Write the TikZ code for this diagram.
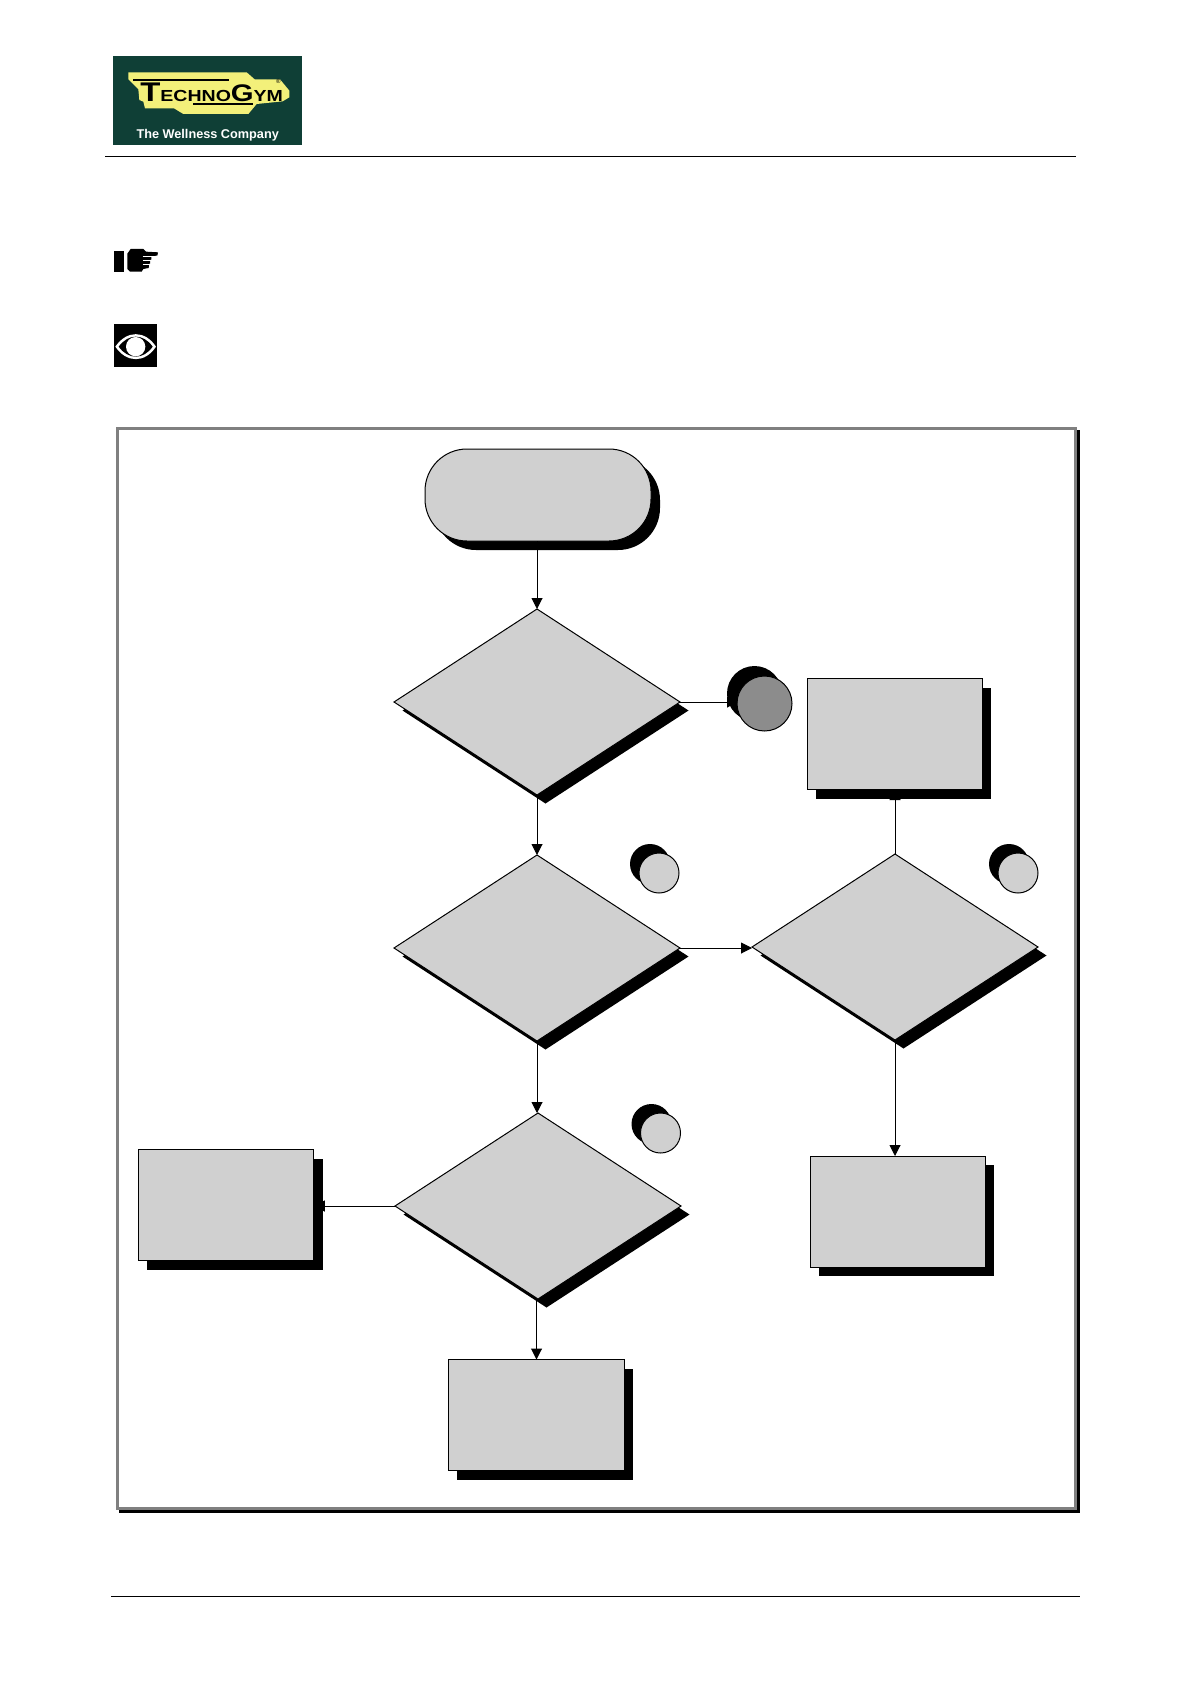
\documentclass[tikz,border=0pt]{standalone}
\usepackage{fontspec}
\setmainfont{Liberation Sans}
\usetikzlibrary{shapes.geometric,arrows.meta}
\definecolor{shapegray}{HTML}{D0D0D0}
\definecolor{darkgray}{HTML}{8C8C8C}
\definecolor{framegray}{HTML}{808080}
\definecolor{logogreen}{HTML}{0F3F36}
\definecolor{logoyellow}{HTML}{F3F07A}
\tikzset{
  every node/.style={outer sep=0pt,inner sep=0pt},
  panel/.style={draw=black,line width=.5pt,fill=shapegray},
  shade/.style={fill=black},
  dia/.style={diamond,minimum width=143pt,minimum height=93pt,shape aspect=1.54},
  boxr/.style={rectangle,minimum width=87.75pt,minimum height=55.5pt},
  smallc/.style={circle,minimum size=20pt},
  bigc/.style={circle,minimum size=27.5pt},
  startr/.style={rectangle,rounded corners=21pt,minimum width=113pt,minimum height=46pt},
  link/.style={draw=black,line width=.5pt,-{Triangle[length=5.5pt,width=5.5pt]}},
  rulel/.style={draw=black,line width=.5pt},
}
\begin{document}
\begin{tikzpicture}[x=.5pt,y=-.5pt]
\useasboundingbox (0,0) rectangle (1191,1684);
\fill[white] (0,0) rectangle (1191,1684);
% header and footer rules
\coordinate (hl) at (105,156.5); \coordinate (hr) at (1076,156.5);
\coordinate (fl) at (111,1596.5); \coordinate (fr) at (1080,1596.5);
\draw[rulel] (hl) -- (hr);
\draw[rulel] (fl) -- (fr);
% logo
\node[rectangle,fill=logogreen,minimum width=94.5pt,minimum height=44.5pt] (logo) at (207.5,100.5) {};
\begin{scope}[shift={(100,40)},x=.16667pt,y=-.16667pt]
\fill[logoyellow] (85,97)--(440,97)--(464,118)--(540,118)--(568,152)--(568,172)--(548,184)--(470,192)--(445,222)--(250,222)--(222,205)--(135,205)--(130,185)--(118,180)--(115,148)--(85,118)--cycle;
\fill[black] (100,116) rectangle (388,122);
\fill[black] (278,190) rectangle (458,196);
\node (logoword) at (335,157) {\scalebox{1.22}[1]{\fontsize{8pt}{8pt}\selectfont\bfseries\raisebox{-.2pt}{\fontsize{13.5pt}{12pt}\selectfont T}ECHNO\fontsize{12pt}{12pt}\selectfont G\fontsize{8pt}{8pt}\selectfont YM}};
\node (logoreg) at (535,123) {\fontsize{3pt}{3pt}\selectfont ®};
\node[text=white] (logotag) at (323,286) {\fontsize{6.35pt}{7pt}\selectfont\bfseries The Wellness Company};
\end{scope}
% pointing hand icon
\begin{scope}[shift={(100,235)},x=.16667pt,y=-.16667pt]
\fill[black] (42,47) rectangle (72,110);
\fill[black] (82,56)--(92,42)--(130,42)--(138,50)--(174,52)--(172,62)--(135,64)--(154,66)--(154,74)--(135,76)--(150,78)--(150,86)--(135,88)--(147,90)--(146,99)--(130,102)--(125,110)--(90,110)--(82,102)--cycle;
\draw[white,line width=.35pt] (128,65) -- (156,65) (128,77) -- (152,77) (128,89) -- (150,89);
% eye icon
\fill[black] (42,268) rectangle (171,396);
\fill[white] (46,335) .. controls (80,285) and (135,285) .. (168,335) .. controls (135,385) and (80,385) .. (46,335) -- cycle;
\fill[black] (56,335) .. controls (85,295) and (130,295) .. (158,335) .. controls (130,375) and (85,375) .. (56,335) -- cycle;
\fill[white] (107,335) circle[radius=29];
\end{scope}
% frame
\node[rectangle,draw=black,line width=1.5pt,minimum width=479pt,minimum height=540pt] (frames) at (599.5,971.5) {};
\node[rectangle,draw=framegray,fill=white,line width=1.5pt,minimum width=479pt,minimum height=540pt] (frame) at (596.5,968.5) {};
% shadows
\node[shade,startr] (starts) at (547,504) {};
\node[shade,dia] (d1s) at (545.5,710.5) {};
\node[shade,dia] (d2s) at (545.5,956.5) {};
\node[shade,dia] (d3s) at (903.5,955.5) {};
\node[shade,dia] (d4s) at (546.5,1214.5) {};
\node[shade,boxr] (r1s) at (903.5,743) {};
\node[shade,boxr] (r2s) at (906.5,1220.5) {};
\node[shade,boxr] (r3s) at (235,1214) {};
\node[shade,boxr] (r4s) at (545,1424) {};
\node[shade,bigc] (cbs) at (754.5,693.5) {};
\node[shade,smallc] (c1s) at (650,864) {};
\node[shade,smallc] (c2s) at (1009,864) {};
\node[shade,smallc] (c3s) at (651.5,1124) {};
% shapes
\node[panel,startr] (start) at (538,495) {};
\node[panel,dia] (d1) at (537,702) {};
\node[panel,dia] (d2) at (537,948) {};
\node[panel,dia] (d3) at (895,947) {};
\node[panel,dia] (d4) at (538,1206) {};
\node[panel,boxr] (r1) at (895,733.5) {};
\node[panel,boxr] (r2) at (898,1211.5) {};
\node[panel,boxr] (r3) at (226,1204.5) {};
\node[panel,boxr] (r4) at (536.5,1415) {};
\node[circle,draw=black,line width=.5pt,fill=darkgray,minimum size=27.5pt] (cb) at (764.5,703.5) {};
\node[panel,smallc] (c1) at (659,873) {};
\node[panel,smallc] (c2) at (1018,873) {};
\node[panel,smallc] (c3) at (660.5,1133) {};
% connectors
\draw[link] (start.south -| d1.north) -- (d1.north);
\draw[link,shorten >=-.5pt] (d1.east) -- (d1.east -| cb.west);
\draw[link] (d1.south) -- (d2.north);
\draw[link] (d2.east) -- (d2.east -| d3.west);
\draw[link] (d2.south) -- (d2.south |- d4.north);
\draw[link] (d3.north) -- (d3.north |- r1.south);
\draw[link] (d3.south) -- (d3.south |- r2.north);
\draw[link] (d4.west) -- (d4.west -| r3.east);
\draw[link] (r4.north |- d4.south) -- (r4.north);
\end{tikzpicture}
\end{document}
